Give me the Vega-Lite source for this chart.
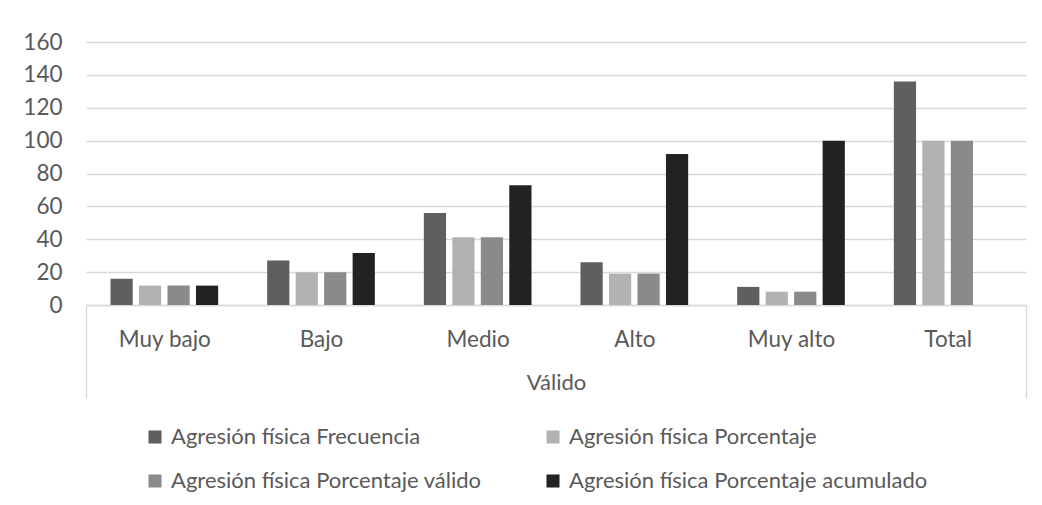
{
  "$schema": "https://vega.github.io/schema/vega-lite/v6.json",
  "width": 940,
  "height": 263,
  "autosize": {"type": "none"},
  "padding": {"left": 86, "top": 42, "right": 16, "bottom": 200},
  "background": "#ffffff",
  "config": {
    "font": "Lato",
    "view": {"stroke": null}
  },
  "data": {
    "values": [
      {"nivel": "Muy bajo", "serie": "Agresión física Frecuencia", "valor": 16},
      {"nivel": "Muy bajo", "serie": "Agresión física Porcentaje", "valor": 11.8},
      {"nivel": "Muy bajo", "serie": "Agresión física Porcentaje válido", "valor": 11.8},
      {"nivel": "Muy bajo", "serie": "Agresión física Porcentaje acumulado", "valor": 11.8},
      {"nivel": "Bajo", "serie": "Agresión física Frecuencia", "valor": 27},
      {"nivel": "Bajo", "serie": "Agresión física Porcentaje", "valor": 19.9},
      {"nivel": "Bajo", "serie": "Agresión física Porcentaje válido", "valor": 19.9},
      {"nivel": "Bajo", "serie": "Agresión física Porcentaje acumulado", "valor": 31.6},
      {"nivel": "Medio", "serie": "Agresión física Frecuencia", "valor": 56},
      {"nivel": "Medio", "serie": "Agresión física Porcentaje", "valor": 41.2},
      {"nivel": "Medio", "serie": "Agresión física Porcentaje válido", "valor": 41.2},
      {"nivel": "Medio", "serie": "Agresión física Porcentaje acumulado", "valor": 72.8},
      {"nivel": "Alto", "serie": "Agresión física Frecuencia", "valor": 26},
      {"nivel": "Alto", "serie": "Agresión física Porcentaje", "valor": 19.1},
      {"nivel": "Alto", "serie": "Agresión física Porcentaje válido", "valor": 19.1},
      {"nivel": "Alto", "serie": "Agresión física Porcentaje acumulado", "valor": 91.9},
      {"nivel": "Muy alto", "serie": "Agresión física Frecuencia", "valor": 11},
      {"nivel": "Muy alto", "serie": "Agresión física Porcentaje", "valor": 8.1},
      {"nivel": "Muy alto", "serie": "Agresión física Porcentaje válido", "valor": 8.1},
      {"nivel": "Muy alto", "serie": "Agresión física Porcentaje acumulado", "valor": 100},
      {"nivel": "Total", "serie": "Agresión física Frecuencia", "valor": 136},
      {"nivel": "Total", "serie": "Agresión física Porcentaje", "valor": 100},
      {"nivel": "Total", "serie": "Agresión física Porcentaje válido", "valor": 100}
    ]
  },
  "mark": {"type": "bar"},
  "encoding": {
    "x": {
      "field": "nivel",
      "type": "nominal",
      "sort": ["Muy bajo", "Bajo", "Medio", "Alto", "Muy alto", "Total"],
      "scale": {"paddingInner": 0, "paddingOuter": 0},
      "axis": {
        "title": "Válido",
        "titleFont": "Lato",
        "titleFontSize": 22,
        "titleFontWeight": "normal",
        "titleColor": "#595959",
        "titleY": 77,
        "titleBaseline": "middle",
        "labelAngle": 0,
        "labelFont": "Lato",
        "labelFontSize": 22.5,
        "labelColor": "#595959",
        "labelBaseline": "alphabetic",
        "labelPadding": -52,
        "tickBand": "extent",
        "tickSize": 93,
        "tickWidth": 1.3,
        "tickColor": {"condition": {"test": "datum.index < 0 || datum.index > 0.99", "value": "#d9d9d9"}, "value": "transparent"},
        "domainColor": "#d9d9d9",
        "domainWidth": 1.3,
        "grid": false
      }
    },
    "xOffset": {
      "field": "serie",
      "type": "nominal",
      "scale": {
        "domain": ["Agresión física Frecuencia", "Agresión física Porcentaje", "Agresión física Porcentaje válido", "Agresión física Porcentaje acumulado"],
        "paddingInner": 0.22,
        "paddingOuter": 0.86
      }
    },
    "y": {
      "field": "valor",
      "type": "quantitative",
      "scale": {"domain": [0, 160], "nice": false},
      "axis": {
        "title": null,
        "values": [0, 20, 40, 60, 80, 100, 120, 140, 160],
        "labelFont": "Lato",
        "labelFontSize": 22.5,
        "labelColor": "#595959",
        "labelPadding": 24,
        "ticks": false,
        "domain": false,
        "gridColor": "#d9d9d9",
        "gridWidth": 1.3
      }
    },
    "color": {
      "field": "serie",
      "type": "nominal",
      "scale": {
        "domain": ["Agresión física Frecuencia", "Agresión física Porcentaje", "Agresión física Porcentaje válido", "Agresión física Porcentaje acumulado"],
        "range": ["#5f5f5f", "#b2b2b2", "#8a8a8a", "#222222"]
      },
      "legend": {
        "title": null,
        "orient": "none",
        "legendX": 58,
        "legendY": 384,
        "direction": "horizontal",
        "columns": 2,
        "symbolType": "square",
        "symbolSize": 170,
        "symbolStrokeWidth": 0,
        "labelFont": "Lato",
        "labelFontSize": 22,
        "labelColor": "#595959",
        "labelOffset": 5,
        "labelLimit": 500,
        "columnPadding": 60,
        "rowPadding": 22
      }
    }
  }
}
